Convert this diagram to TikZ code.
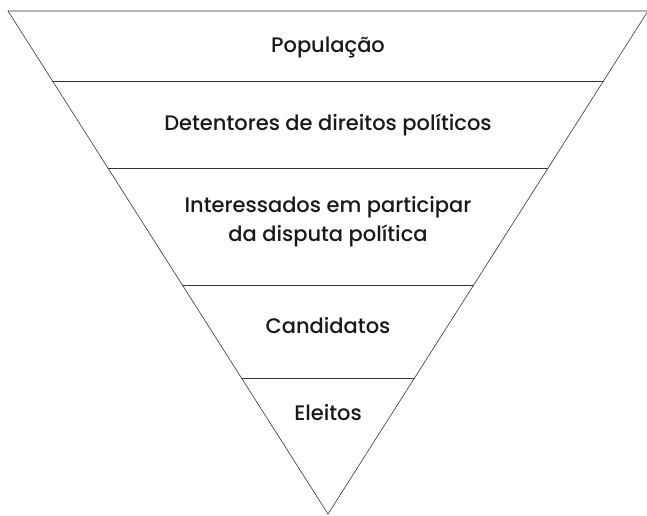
\documentclass[tikz,border=0pt]{standalone}
\usepackage{fontspec}
\setmainfont{Poppins Medium}
\usetikzlibrary{calc}
\begin{document}
\begin{tikzpicture}[x=1pt,y=-1pt,
  edge/.style={draw,line width=0.6pt,black!80},
  tiertext/.style={font=\fontsize{21}{29}\selectfont,align=center,text=black!90,inner sep=0pt}]
\useasboundingbox (0,0) rectangle (647,515);
\coordinate (topl) at (8,11);
\coordinate (topr) at (648,11);
\coordinate (apex) at (328,514);
\coordinate (l1) at ($(topl)!0.139!(apex)$);
\coordinate (r1) at ($(topr)!0.139!(apex)$);
\coordinate (l2) at ($(topl)!0.312!(apex)$);
\coordinate (r2) at ($(topr)!0.312!(apex)$);
\coordinate (l3) at ($(topl)!0.545!(apex)$);
\coordinate (r3) at ($(topr)!0.545!(apex)$);
\coordinate (l4) at ($(topl)!0.730!(apex)$);
\coordinate (r4) at ($(topr)!0.730!(apex)$);
\draw[edge] (topl) -- (topr) -- (apex) -- cycle;
\draw[edge] (l1) -- (r1);
\draw[edge] (l2) -- (r2);
\draw[edge] (l3) -- (r3);
\draw[edge] (l4) -- (r4);
\node[tiertext,anchor=base] (pop) at (328,52) {População};
\node[tiertext,anchor=base] (det) at (328,130) {Detentores de direitos políticos};
\node[tiertext] (int) at (328,222) {Interessados em participar\\da disputa política};
\node[tiertext,anchor=base] (cand) at (328,333) {Candidatos};
\node[tiertext,anchor=base] (elei) at (328,420) {Eleitos};
\end{tikzpicture}
\end{document}
